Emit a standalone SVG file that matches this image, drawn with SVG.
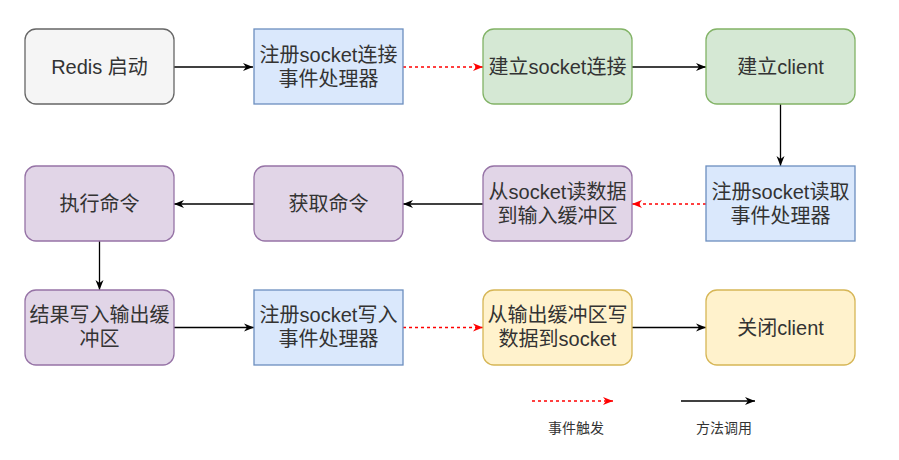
<svg xmlns="http://www.w3.org/2000/svg" width="899" height="460" viewBox="0 0 899 460">
<style>
.n{stroke-width:1.3}
.g{fill:#f5f5f5;stroke:#666666}
.b{fill:#dae8fc;stroke:#6c8ebf}
.gr{fill:#d5e8d4;stroke:#82b366}
.p{fill:#e1d5e7;stroke:#9673a6}
.y{fill:#fff2cc;stroke:#d6b656}
text{font-family:"Liberation Sans","Noto Sans CJK SC",sans-serif;font-size:20px;fill:#333333;text-anchor:middle;dominant-baseline:central}
.lg{font-size:14px}
.c{fill:none;stroke:#000000;stroke-width:1.3}
.r{fill:none;stroke:#ff0000;stroke-width:1.3;stroke-dasharray:3 3}
</style>
<defs>
<marker id="ab" viewBox="0 0 10 10" refX="10" refY="5" markerWidth="10" markerHeight="10" markerUnits="userSpaceOnUse" orient="auto">
<path d="M0,1 L10,5 L0,9 L3,5 Z" fill="#000000"/>
</marker>
<marker id="ar" viewBox="0 0 10 10" refX="10" refY="5" markerWidth="10" markerHeight="10" markerUnits="userSpaceOnUse" orient="auto">
<path d="M0,1 L10,5 L0,9 L3,5 Z" fill="#ff0000"/>
</marker>
</defs>
<g id="connectors">
<line class="c" x1="174" y1="67" x2="253" y2="67" marker-end="url(#ab)"/>
<line class="r" x1="403" y1="67" x2="483" y2="67" marker-end="url(#ar)"/>
<line class="c" x1="632" y1="67" x2="706" y2="67" marker-end="url(#ab)"/>
<line class="c" x1="780.5" y1="104" x2="780.5" y2="166" marker-end="url(#ab)"/>
<line class="r" x1="706" y1="204" x2="632" y2="204" marker-end="url(#ar)"/>
<line class="c" x1="483" y1="204" x2="403" y2="204" marker-end="url(#ab)"/>
<line class="c" x1="254" y1="204" x2="174" y2="204" marker-end="url(#ab)"/>
<line class="c" x1="99.5" y1="241" x2="99.5" y2="290" marker-end="url(#ab)"/>
<line class="c" x1="174" y1="327.5" x2="254" y2="327.5" marker-end="url(#ab)"/>
<line class="r" x1="403" y1="327.5" x2="483" y2="327.5" marker-end="url(#ar)"/>
<line class="c" x1="632" y1="327.5" x2="706" y2="327.5" marker-end="url(#ab)"/>
</g>
<g id="n1"><rect class="n g" x="25" y="29" width="149" height="75" rx="11"/><text x="99.5" y="67">Redis 启动</text></g>
<g id="n2"><rect class="n b" x="254" y="29" width="149" height="75"/><text x="328.5" y="55">注册socket连接</text><text x="328.5" y="79">事件处理器</text></g>
<g id="n3"><rect class="n gr" x="483" y="29" width="149" height="75" rx="11"/><text x="557.5" y="67">建立socket连接</text></g>
<g id="n4"><rect class="n gr" x="706" y="29" width="149" height="75" rx="11"/><text x="780.5" y="67">建立client</text></g>
<g id="n5"><rect class="n b" x="706" y="166" width="149" height="75"/><text x="780.5" y="192">注册socket读取</text><text x="780.5" y="216">事件处理器</text></g>
<g id="n6"><rect class="n p" x="483" y="166" width="149" height="75" rx="11"/><text x="557.5" y="192">从socket读数据</text><text x="557.5" y="216">到输入缓冲区</text></g>
<g id="n7"><rect class="n p" x="254" y="166" width="149" height="75" rx="11"/><text x="328.5" y="204">获取命令</text></g>
<g id="n8"><rect class="n p" x="25" y="166" width="149" height="75" rx="11"/><text x="99.5" y="204">执行命令</text></g>
<g id="n9"><rect class="n p" x="25" y="290" width="149" height="75" rx="11"/><text x="99.5" y="315">结果写入输出缓</text><text x="99.5" y="339">冲区</text></g>
<g id="n10"><rect class="n b" x="254" y="290" width="149" height="75"/><text x="328.5" y="315">注册socket写入</text><text x="328.5" y="339">事件处理器</text></g>
<g id="n11"><rect class="n y" x="483" y="290" width="149" height="75" rx="11"/><text x="557.5" y="315">从输出缓冲区写</text><text x="557.5" y="339">数据到socket</text></g>
<g id="n12"><rect class="n y" x="706" y="290" width="149" height="75" rx="11"/><text x="780.5" y="327.5">关闭client</text></g>
<g id="legend">
<line class="r" x1="532" y1="401" x2="613" y2="401" marker-end="url(#ar)"/>
<line class="c" x1="681" y1="401" x2="755" y2="401" marker-end="url(#ab)"/>
<text class="lg" x="576" y="428">事件触发</text>
<text class="lg" x="724" y="428">方法调用</text>
</g>
</svg>
